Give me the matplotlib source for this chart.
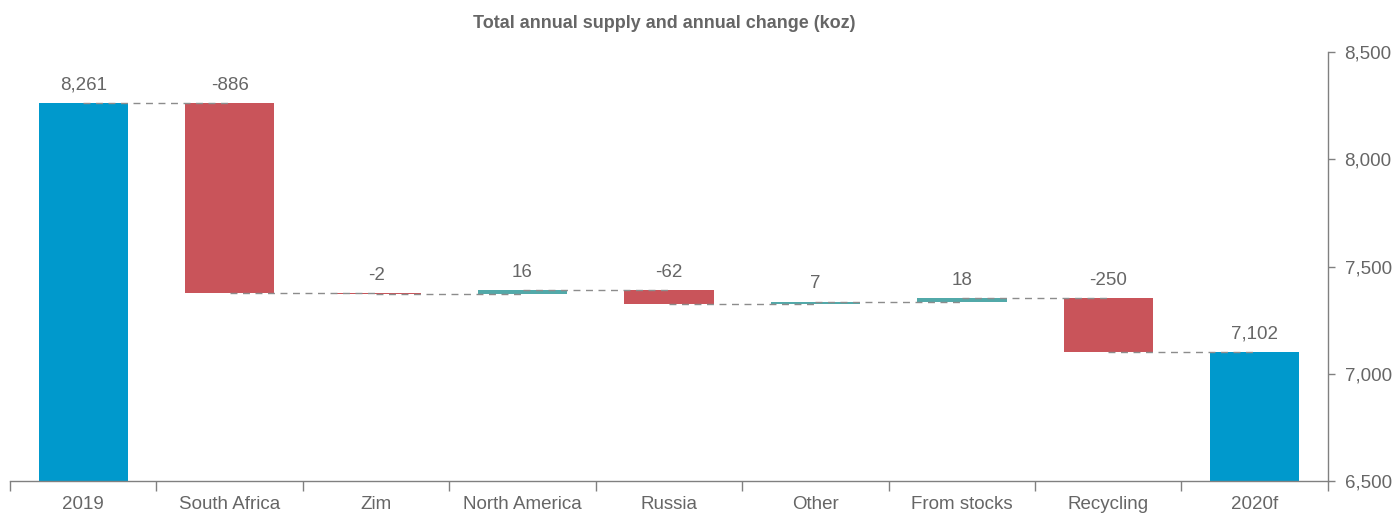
import numpy as np
import matplotlib.pyplot as plt

# data
categories = ['2019', 'South Africa', 'Zim', 'North America', 'Russia',
              'Other', 'From stocks', 'Recycling', '2020f']
changes = [8261, -886, -2, 16, -62, 7, 18, -250, 7102]
is_total = [True, False, False, False, False, False, False, False, True]
labels = ['8,261', '-886', '-2', '16', '-62', '7', '18', '-250', '7,102']

blue = '#0099CC'
red = '#C9545A'
teal = '#52A9A9'
grey_txt = '#666666'

plt.rcParams['font.family'] = ['Liberation Sans', 'DejaVu Sans']

# running totals
bottoms = []
heights = []
colors = []
levels = []
running = 0
for v, tot in zip(changes, is_total):
    if tot:
        bottoms.append(6500)
        heights.append(v - 6500)
        colors.append(blue)
        running = v
    else:
        start = running
        running = start + v
        bottoms.append(min(start, running))
        heights.append(abs(v))
        colors.append(red if v < 0 else teal)
    levels.append(running)

x = np.arange(len(categories))

fig = plt.figure(figsize=(13.97, 5.13), dpi=100)
ax = fig.add_axes([0.00716, 0.0624, 0.9434, 0.8362])

ax.bar(x, heights, bottom=bottoms, width=0.61, color=colors, zorder=2)

# dashed connectors from centre to next centre
for i in range(len(x) - 1):
    ax.plot([x[i], x[i + 1]], [levels[i], levels[i]], linestyle=(0, (5, 4)),
            color='#8c8c8c', linewidth=1.0, zorder=3)

# value labels
for i in range(len(x)):
    top = bottoms[i] + heights[i]
    ax.annotate(labels[i], (x[i], top), xytext=(0, 7), textcoords='offset points',
                ha='center', va='bottom', fontsize=13.5, color=grey_txt)

ax.set_xlim(-0.5, len(x) - 0.5)
ax.set_ylim(6500, 8500)
ax.set_yticks([6500, 7000, 7500, 8000, 8500])
ax.set_yticklabels(['6,500', '7,000', '7,500', '8,000', '8,500'])

ax.set_xticks(x)
ax.set_xticklabels(categories)
ax.set_xticks(np.arange(-0.5, len(x), 1), minor=True)
ax.tick_params(axis='x', which='major', length=0, labelsize=13.5, labelcolor=grey_txt, pad=11)
ax.tick_params(axis='x', which='minor', length=7, color='#808080', width=1)

ax.yaxis.tick_right()
ax.tick_params(axis='y', length=5, color='#808080', width=1, labelsize=13.5,
               labelcolor=grey_txt, pad=7)

for s in ['top', 'left']:
    ax.spines[s].set_visible(False)
for s in ['bottom', 'right']:
    ax.spines[s].set_color('#808080')
    ax.spines[s].set_linewidth(1)

fig.text(0.4755, 0.955, 'Total annual supply and annual change (koz)', ha='center',
         va='center', fontsize=13, fontweight='bold', color=grey_txt)

fig.savefig('out.png', dpi=100)
